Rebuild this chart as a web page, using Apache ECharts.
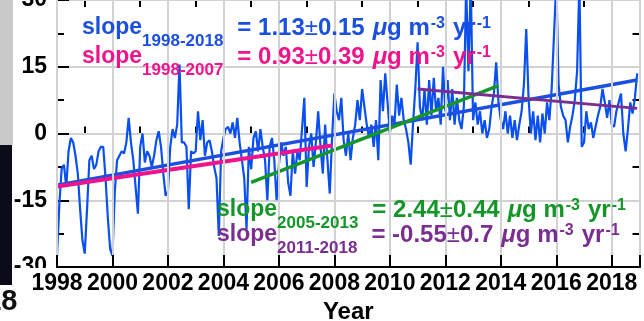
<!DOCTYPE html>
<html>
<head>
<meta charset="utf-8">
<script src="https://cdn.jsdelivr.net/npm/echarts@6/dist/echarts.min.js"></script>
<style>
  html, body { margin: 0; padding: 0; background: #fff; }
  #chart { width: 644px; height: 321px; }
</style>
</head>
<body>
<div id="chart"></div>
<script>
// Monthly anomaly series, January 1998 onward (one value per month)
const startYear = 1998;
const monthlyAnomaly = [
  // 1998
  -27.5, -16, -8, -7, -12, -4, -1, -2, -5, -9, -17, -24,
  // 1999
  -27, -17, -6, -5, -8, -7, -4, -3, -3, -10, -19, -26,
  // 2000
  -27.5, -13, -6, -5, -4, -4.5, -2, 3.5, -2, -6, -12, -18,
  // 2001
  -3, 0, -6.5, -4, -5, -7.5, -5, -1.5, 0.5, -3, -9, -14,
  // 2002
  -13, -3, 1, -1, 2, 15.5, -2, -2, -3, -17, -4, -4.5,
  // 2003
  -4, 5, -1.5, 3, -5, -2, -1.5, -4, -7.5, -10, -23, -4,
  // 2004
  -1, 1, 1.5, 0, 2.5, -1, 3.5, -2, -6, -10, -21.5, -3,
  // 2005
  -8, -1, 0.5, -4, 1, -3, -6, -15, -3, -1, -6, -15,
  // 2006
  -7, -2, -5, -3, -11, -14, -4, -9, -4, -6, 1, 8,
  // 2007
  -12, -3, 0, -7.5, -2, 5, -3, -9, 2, -6, -13.5, -1,
  // 2008
  9, 5, 3, 8, -1.5, -5, 0, -6, -1, 2, 7.5, 3,
  // 2009
  10, 6, 2, -1, 2, -3, 3, -6, 12, 5, 13.5, 7,
  // 2010
  0, 4, 2, 11, 4, 8, 3, 1, -2, -7, 2, 10,
  // 2011
  20.5, 6, 3, 10, 2, 12, 4, 12.5, 5, 8, 2, 15,
  // 2012
  5, 12, 3, 10, 2, 8, 3, 1, 6, 33, 14, 34,
  // 2013
  3, 7, 2, 5, 0, 3, -1, 1, 6, 9, 16, 7,
  // 2014
  3, 1, 5, 0, 4, -1, 3, -1.5, 2, 5, 11, 23.5,
  // 2015
  8, 0, 5, -1.5, 4, -2, 4.5, 0, 7, 3, 10, 22,
  // 2016
  34, 11, 6, 4, 3, -2, 1.5, 4, 7.5, 14, 34, -3,
  // 2017
  -2, 5, 1, 2.5, -1, 1.5, 4, 6, 10, 7, 3.5, 7.5,
  // 2018
  2, 1.5, 5, 7, 9, 0, -4, 1, 7, 4.5, 8, 13.5
];

// Linear trends: fit period, value at the start of the period, slope and its error
const trendFirstYear = [1998, 1998, 2005, 2011];
const trendLastYear  = [2018, 2007, 2013, 2018];
const trendStartValue = [-11.6, -11.9, -11.0, 10.0];
const trendSlope = [1.13, 0.93, 2.44, -0.55];
const trendError = [0.15, 0.39, 0.44, 0.7];

// Tick labels
const xTickYears = [1998, 2000, 2002, 2004, 2006, 2008, 2010, 2012, 2014, 2016, 2018];
const yTickValues = [-30, -15, 0, 15, 30];

// Styling
const FONT = 'Liberation Sans, Arial, Helvetica, sans-serif';
const dataColor = '#0a50f0';
const trendColors = ['#1b4fe0', '#f0148c', '#149628', '#7a2f90'];
const trendWidths = [3.5, 4, 3.5, 3];
const gridColor = '#d2d2d2';

const lineData = monthlyAnomaly.map((v, i) => [startYear + i / 12, v]);

const trendSeries = trendSlope.map((s, k) => {
  const x0 = trendFirstYear[k];
  const x1 = trendLastYear[k] + 11 / 12;
  const y0 = trendStartValue[k];
  return {
    type: 'line',
    xAxisIndex: 0, yAxisIndex: 0,
    data: [[x0, y0], [x1, y0 + s * (x1 - x0)]],
    showSymbol: false,
    silent: true,
    lineStyle: { color: trendColors[k], width: trendWidths[k] },
    z: 3 + k
  };
});

// Equation label: "slope_{period} = a±b μg m^-3 yr^-1"
function equationText(k) {
  const period = trendFirstYear[k] + '-' + trendLastYear[k];
  return '{s|slope}{sub|' + period + '}{gap| }{eq|= ' + trendSlope[k] + '}{pm|±}{eq|' +
    trendError[k] + '}{sp| }{mu|μ}{eq|g m}{sup|-3}{sp| }{eq|yr}{sup|-1}';
}
function equationRich(color) {
  const base = { fill: color, fontFamily: FONT, fontWeight: 'bold', fontSize: 24, lineHeight: 44 };
  return {
    s: Object.assign({}, base, { fontSize: 23 }),
    eq: base,
    pm: Object.assign({}, base, { fontWeight: 'normal' }),
    mu: Object.assign({}, base, { fontStyle: 'italic' }),
    sub: Object.assign({}, base, { fontSize: 17, verticalAlign: 'bottom' }),
    sup: Object.assign({}, base, { fontSize: 16, verticalAlign: 'top', padding: [10, 0, 0, 1] }),
    gap: Object.assign({}, base, { width: 14 }),
    sp: Object.assign({}, base, { width: 8 })
  };
}
const eqPositions = [[82, 6], [82, 35], [217, 188], [217, 213]];
const equationGraphics = trendSlope.map((s, k) => ({
  type: 'text',
  x: eqPositions[k][0],
  y: eqPositions[k][1],
  z: 20,
  style: {
    text: equationText(k),
    rich: equationRich(trendColors[k]),
    fill: trendColors[k],
    font: 'bold 23px ' + FONT,
    lineHeight: 44,
    verticalAlign: 'top',
    align: 'left'
  }
}));

const axisLabelStyle = { fontFamily: FONT, fontWeight: 'bold', fontSize: 23, color: '#000' };
const blackLine = { color: '#000', width: 2 };
const gridBox = { left: 57, right: 4.5, top: 0, bottom: 54, containLabel: false, outerBoundsMode: 'none' };

const chart = echarts.init(document.getElementById('chart'), null, { renderer: 'canvas' });
chart.setOption({
  animation: false,
  backgroundColor: '#fff',
  grid: [Object.assign({}, gridBox), Object.assign({}, gridBox)],
  xAxis: [
    {
      gridIndex: 0, type: 'value', position: 'bottom', min: 1998, max: 2019, interval: 2, z: 6,
      axisLine: { onZero: false, lineStyle: blackLine },
      axisTick: { inside: true, length: 12, lineStyle: blackLine },
      axisLabel: Object.assign({}, axisLabelStyle, {
        margin: 5,
        hideOverlap: false,
        formatter: v => (xTickYears.indexOf(Math.round(v * 1000) / 1000) >= 0 ? String(v) : '')
      }),
      splitLine: { show: true, lineStyle: { color: gridColor, width: 2 } },
      name: 'Year', nameLocation: 'middle', nameGap: 33,
      nameTextStyle: { fontFamily: FONT, fontWeight: 'bold', fontSize: 24, color: '#000' }
    },
    {
      gridIndex: 0, type: 'value', position: 'top', min: 1998, max: 2019, interval: 2,
      axisLine: { onZero: false, lineStyle: blackLine },
      axisTick: { inside: true, length: 12, lineStyle: blackLine },
      axisLabel: { show: false },
      splitLine: { show: false }
    },
    {
      gridIndex: 1, type: 'value', position: 'bottom', min: 1998, max: 2019, interval: 1,
      axisLine: { show: false },
      axisTick: { inside: true, length: 7, lineStyle: blackLine },
      axisLabel: { show: false },
      splitLine: { show: false }
    },
    {
      gridIndex: 1, type: 'value', position: 'top', min: 1998, max: 2019, interval: 1,
      axisLine: { show: false },
      axisTick: { inside: true, length: 7, lineStyle: blackLine },
      axisLabel: { show: false },
      splitLine: { show: false }
    }
  ],
  yAxis: [
    {
      gridIndex: 0, type: 'value', position: 'left', min: -30, max: 30, interval: 15, z: 2,
      axisLine: { onZero: false, lineStyle: blackLine },
      axisTick: { inside: true, length: 12, lineStyle: blackLine },
      minorTick: { show: true, splitNumber: 2, length: 7, lineStyle: blackLine },
      axisLabel: Object.assign({}, axisLabelStyle, {
        margin: 10,
        hideOverlap: false,
        formatter: v => (yTickValues.indexOf(v) >= 0 ? String(v) : '')
      }),
      splitLine: { show: true, lineStyle: { color: gridColor, width: 2 } }
    },
    {
      gridIndex: 0, type: 'value', position: 'right', min: -30, max: 30, interval: 15,
      axisLine: { onZero: false, lineStyle: blackLine },
      axisTick: { inside: true, length: 12, lineStyle: blackLine },
      minorTick: { show: true, splitNumber: 2, length: 7, lineStyle: blackLine },
      axisLabel: { show: false },
      splitLine: { show: false }
    },
    { gridIndex: 1, type: 'value', min: -30, max: 30, show: false }
  ],
  series: [
    {
      type: 'line',
      xAxisIndex: 0, yAxisIndex: 0,
      data: lineData,
      showSymbol: false,
      silent: true,
      lineStyle: { color: dataColor, width: 2.2 },
      z: 2
    }
  ].concat(trendSeries),
  graphic: [
    // neighbouring panel edge on the left
    { type: 'rect', z: 1, shape: { x: 0, y: 0, width: 13, height: 145 }, style: { fill: '#c9c9c9' } },
    { type: 'rect', z: 1, shape: { x: 0, y: 145, width: 12, height: 140 }, style: { fill: '#0b0b1a' } },
    { type: 'rect', z: 4, shape: { x: 12, y: 268, width: 43, height: 26 }, style: { fill: '#fff' } },
    {
      type: 'text', z: 5, x: 17.5, y: 302,
      style: { text: '2018', font: 'bold 29px ' + FONT, fill: '#111', align: 'right', verticalAlign: 'middle' }
    }
  ].concat(equationGraphics)
});
</script>
</body>
</html>
